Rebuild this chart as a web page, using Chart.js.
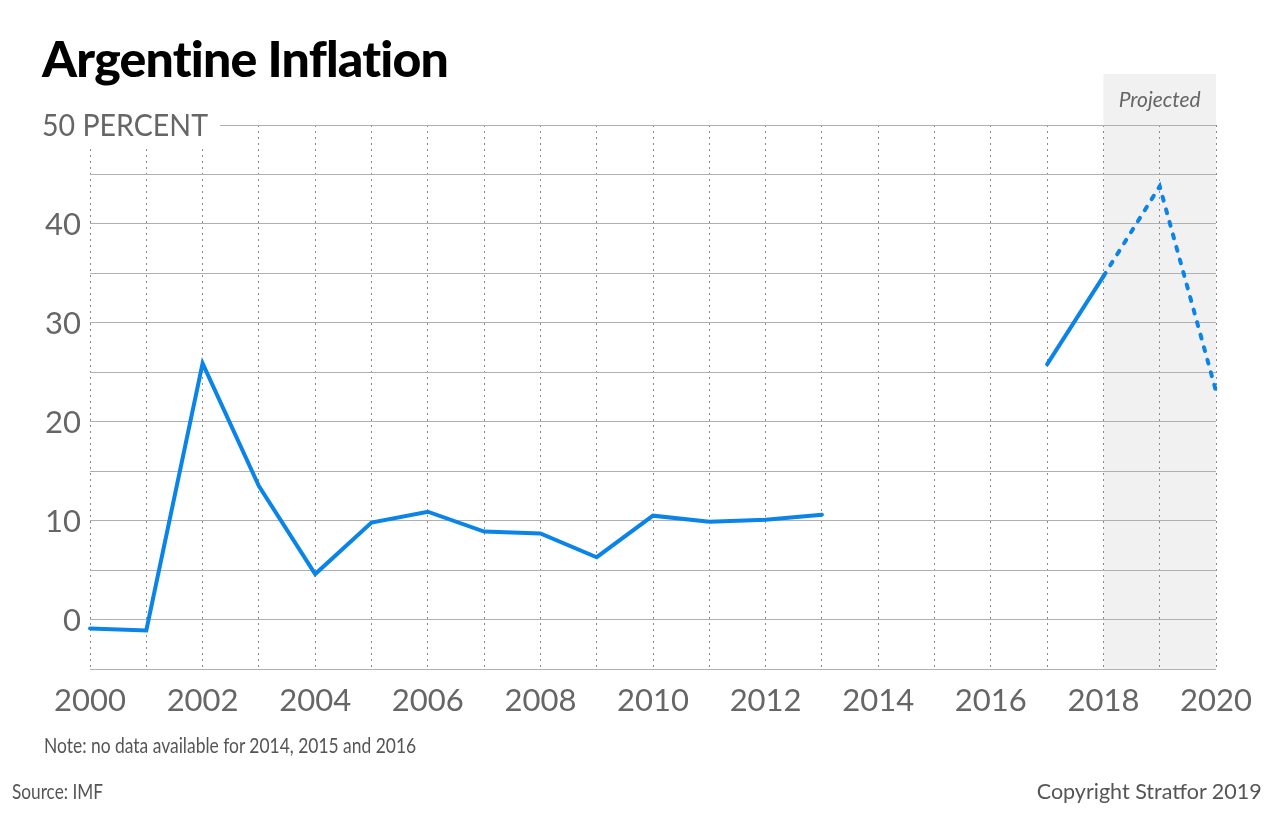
<!DOCTYPE html>
<html>
<head>
<meta charset="utf-8">
<script src="https://cdn.jsdelivr.net/npm/chart.js@4.4.1/dist/chart.umd.min.js"></script>
<style>
  html, body { margin:0; padding:0; background:#fff; }
  #wrap { position:relative; width:1280px; height:824px; overflow:hidden; }
  canvas { position:absolute; left:0; top:0; }
  .t { position:absolute; white-space:nowrap; font-family: Lato, "Open Sans", sans-serif; line-height:1; }
  #title { left:42px; top:33px; font-size:50px; font-weight:900; color:#000; letter-spacing:-0.8px; }
  #note { left:44px; top:734px; font-size:21px; color:#555; transform-origin:left center; }
  #source { left:12px; top:780px; font-size:21px; color:#555; transform-origin:left center; }
  #copy { right:18px; top:780px; font-size:21px; color:#555; transform-origin:right center; }
</style>
</head>
<body>
<div id="wrap">
  <canvas id="c" width="1280" height="824"></canvas>
  <div class="t" id="title">Argentine Inflation</div>
  <div class="t" id="note">Note: no data available for 2014, 2015 and 2016</div>
  <div class="t" id="source">Source: IMF</div>
  <div class="t" id="copy">Copyright Stratfor 2019</div>
</div>
<script>
const years = ['2000','2001','2002','2003','2004','2005','2006','2007','2008','2009','2010',
               '2011','2012','2013','2014','2015','2016','2017','2018','2019','2020'];
const inflation = [-0.9, -1.1, 25.9, 13.5, 4.6, 9.8, 10.9, 8.9, 8.7, 6.3, 10.5,
                   9.9, 10.1, 10.6, null, null, null, 25.8, 34.7, 43.8, 23.1];
const yTickLabels = [
  {value: 50, text: '50 PERCENT'},
  {value: 40, text: '40'},
  {value: 30, text: '30'},
  {value: 20, text: '20'},
  {value: 10, text: '10'},
  {value: 0,  text: '0'}
];
const projectedFrom = '2018';
const projectedTo = '2020';
const projectedLabel = 'Projected';

const FONT = 'Lato, "Open Sans", sans-serif';
const projIdx = years.indexOf(projectedFrom);

// fit footer text widths to the reference layout
[['note', 372], ['source', 91], ['copy', 225]].forEach(([id, w]) => {
  const el = document.getElementById(id);
  const k = w / el.getBoundingClientRect().width;
  el.style.transform = 'scaleX(' + k.toFixed(3) + ')';
});

const decor = {
  id: 'decor',
  beforeDraw(chart) {
    const {ctx, chartArea, scales} = chart;
    const x0 = scales.x.getPixelForValue(years.indexOf(projectedFrom));
    const x1 = scales.x.getPixelForValue(years.indexOf(projectedTo));
    ctx.save();
    ctx.fillStyle = '#f1f1f1';
    ctx.fillRect(x0, 74, x1 - x0, chartArea.bottom - 74);
    ctx.fillStyle = '#666';
    ctx.font = 'italic 21px ' + FONT;
    ctx.textAlign = 'center';
    ctx.textBaseline = 'middle';
    ctx.fillText(projectedLabel, (x0 + x1) / 2, 100);
    ctx.restore();
  },
  beforeDatasetsDraw(chart) {
    const {ctx, scales} = chart;
    const y = scales.y;
    ctx.save();
    ctx.textBaseline = 'middle';
    yTickLabels.forEach(t => {
      const py = y.getPixelForValue(t.value);
      ctx.fillStyle = '#666';
      if (t.text.length > 2) {
        ctx.font = '31px ' + FONT;
        const w = ctx.measureText(t.text).width;
        const k = 166 / w;
        ctx.fillStyle = '#fff';
        ctx.fillRect(40, py - 22, 180, 44);
        ctx.fillStyle = '#666';
        ctx.save();
        ctx.translate(42, py + 1);
        ctx.scale(k, 1);
        ctx.textAlign = 'left';
        ctx.fillText(t.text, 0, 0);
        ctx.restore();
      } else {
        ctx.font = '31px ' + FONT;
        ctx.textAlign = 'right';
        ctx.fillText(t.text, 81, py + 1);
      }
    });
    ctx.restore();
  }
};

new Chart(document.getElementById('c'), {
  type: 'line',
  data: {
    labels: years,
    datasets: [{
      data: inflation,
      borderColor: '#0a84e8',
      borderWidth: 4,
      pointRadius: 0,
      tension: 0,
      spanGaps: false,
      borderCapStyle: 'round',
      segment: {
        borderDash: ctx => ctx.p0DataIndex >= projIdx ? [4, 9] : undefined
      }
    }]
  },
  options: {
    responsive: false,
    animation: false,
    events: [],
    layout: { padding: { top: 125, right: 64, left: 0, bottom: 0 } },
    plugins: { legend: { display: false }, tooltip: { enabled: false } },
    scales: {
      x: {
        type: 'category',
        offset: false,
        grid: { color: '#8a8a8a', lineWidth: 1, drawTicks: false },
        border: { display: false, dash: [2, 4] },
        ticks: {
          autoSkip: false, maxRotation: 0, padding: 13,
          color: '#666', font: { family: FONT, size: 31 },
          callback: (v, i) => (i % 2 === 0 ? years[i] : '')
        },
        afterFit: s => { s.height = 824 - 669; }
      },
      y: {
        min: -5, max: 50,
        grid: { color: '#b0b0b0', lineWidth: 1, drawTicks: false },
        border: { display: false },
        ticks: { display: false, stepSize: 5 },
        afterFit: s => { s.width = 90; }
      }
    }
  },
  plugins: [decor]
});
</script>
</body>
</html>
